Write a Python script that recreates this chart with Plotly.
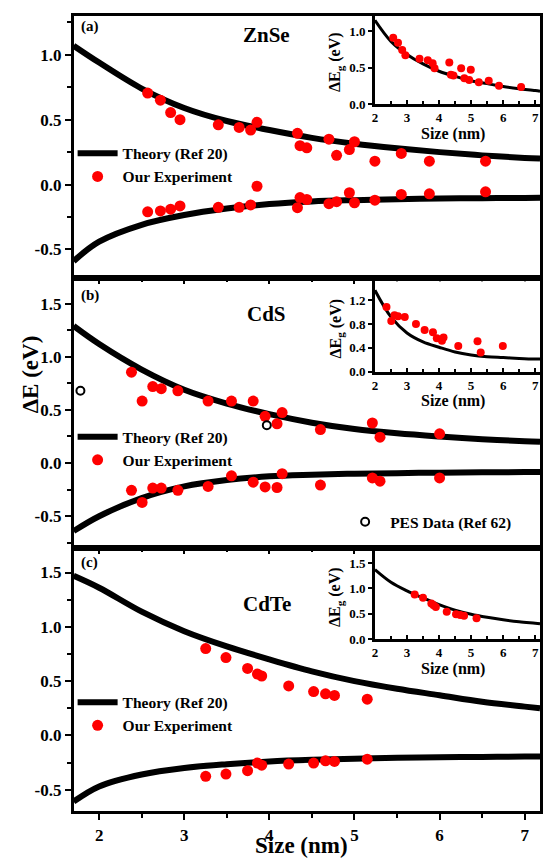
import plotly.graph_objects as go

W, H = 543, 860
FONT = "Liberation Serif"

# ---------------- data ----------------
theory_x = [1.7, 2.0, 2.5, 3.0, 3.5, 4.0, 4.5, 5.0, 5.5, 6.0, 6.5, 7.0, 7.18]
inset_theory_x = [2.0, 2.5, 3.0, 3.5, 4.0, 4.5, 5.0, 5.5, 6.0, 6.5, 7.0, 7.15]

# (a) ZnSe
a_theory_up = [1.07, 0.94, 0.74, 0.59, 0.49, 0.42, 0.36, 0.315, 0.28, 0.25, 0.225, 0.205, 0.20]
a_theory_dn = [-0.59, -0.44, -0.31, -0.235, -0.185, -0.15, -0.13, -0.12, -0.113, -0.108, -0.105, -0.103, -0.102]
a_size = [2.57, 2.72, 2.84, 2.95, 3.40, 3.645, 3.78, 3.855, 4.33, 4.36, 4.44, 4.70, 4.79, 4.94, 5.0, 5.24, 5.55, 5.88, 6.54]
a_up = [0.705, 0.65, 0.555, 0.50, 0.46, 0.44, 0.42, 0.48, 0.395, 0.30, 0.283, 0.35, 0.225, 0.27, 0.33, 0.18, 0.24, 0.18, 0.18]
a_dn = [-0.21, -0.203, -0.19, -0.165, -0.175, -0.175, -0.157, -0.013, -0.178, -0.10, -0.115, -0.147, -0.132, -0.063, -0.14, -0.12, -0.076, -0.071, -0.056]
a_in_theory = [1.15, 0.86, 0.68, 0.55, 0.45, 0.38, 0.32, 0.28, 0.24, 0.21, 0.185, 0.175]
a_in_size = [2.57, 2.72, 2.85, 2.95, 3.39, 3.65, 3.80, 3.86, 4.32, 4.37, 4.45, 4.69, 4.79, 4.94, 4.99, 5.24, 5.55, 5.87, 6.56]
a_in_gap = [0.91, 0.84, 0.74, 0.67, 0.62, 0.60, 0.56, 0.49, 0.57, 0.40, 0.39, 0.49, 0.355, 0.33, 0.47, 0.30, 0.32, 0.25, 0.235]

# (b) CdS
b_theory_up = [1.29, 1.12, 0.88, 0.69, 0.56, 0.46, 0.38, 0.32, 0.28, 0.25, 0.225, 0.205, 0.20]
b_theory_dn = [-0.64, -0.50, -0.33, -0.22, -0.16, -0.125, -0.11, -0.10, -0.095, -0.09, -0.087, -0.085, -0.085]
b_size = [2.38, 2.505, 2.63, 2.73, 2.925, 3.28, 3.555, 3.81, 3.95, 4.09, 4.15, 4.60, 5.21, 5.30, 6.0]
b_up = [0.855, 0.583, 0.72, 0.70, 0.68, 0.583, 0.583, 0.583, 0.44, 0.37, 0.475, 0.315, 0.377, 0.244, 0.275]
b_dn = [-0.256, -0.37, -0.235, -0.235, -0.256, -0.22, -0.12, -0.18, -0.225, -0.23, -0.10, -0.207, -0.14, -0.17, -0.14]
b_pes_size = [1.78, 3.97]
b_pes = [0.68, 0.355]
b_in_theory = [1.37, 0.92, 0.65, 0.50, 0.41, 0.33, 0.28, 0.25, 0.235, 0.22, 0.21, 0.21]
b_in_size = [2.36, 2.51, 2.61, 2.72, 2.93, 3.28, 3.55, 3.81, 3.93, 4.09, 4.14, 4.60, 5.20, 5.30, 5.99]
b_in_gap = [1.088, 0.85, 0.95, 0.93, 0.92, 0.80, 0.70, 0.66, 0.56, 0.52, 0.575, 0.43, 0.51, 0.32, 0.43]

# (c) CdTe
c_theory_up = [1.47, 1.36, 1.14, 0.96, 0.82, 0.70, 0.59, 0.50, 0.43, 0.37, 0.31, 0.265, 0.25]
c_theory_dn = [-0.61, -0.47, -0.36, -0.30, -0.265, -0.24, -0.225, -0.215, -0.207, -0.202, -0.198, -0.195, -0.195]
c_size = [3.252, 3.49, 3.744, 3.86, 3.91, 4.227, 4.52, 4.66, 4.765, 5.15]
c_up = [0.80, 0.717, 0.617, 0.565, 0.547, 0.456, 0.404, 0.383, 0.368, 0.334]
c_dn = [-0.377, -0.356, -0.325, -0.255, -0.274, -0.264, -0.255, -0.234, -0.24, -0.219]
c_in_theory = [1.37, 1.12, 0.95, 0.81, 0.68, 0.57, 0.49, 0.43, 0.38, 0.34, 0.31, 0.30]
c_in_size = [3.24, 3.50, 3.76, 3.83, 3.90, 4.24, 4.53, 4.66, 4.78, 5.17]
c_in_gap = [0.88, 0.815, 0.70, 0.665, 0.633, 0.54, 0.49, 0.476, 0.457, 0.41]

main_xticks = [2, 3, 4, 5, 6, 7]
main_yticks_a = [-0.5, 0.0, 0.5, 1.0]
main_yticks_bc = [-0.5, 0.0, 0.5, 1.0, 1.5]

# ---------------- layout helpers ----------------
def fx(p):
    return p / W

def fy(p):
    return 1 - p / H

MAIN_X = [fx(71), fx(540)]
PANELS = {1: (16, 278), 2: (284, 550), 3: (556, 819)}
INSET_X = [fx(374), fx(540)]
INSETS = {4: (16, 105), 5: (284, 375), 6: (556, 645)}

RED = "#ff0000"
fig = go.Figure()

def add_panel(n, t_up, t_dn, size, up, dn, legend):
    xa, ya = ("x", "y") if n == 1 else (f"x{n}", f"y{n}")
    fig.add_trace(go.Scatter(x=theory_x, y=t_up, mode="lines", line=dict(color="black", width=6, shape="spline"),
                             name="Theory (Ref 20)", xaxis=xa, yaxis=ya, legend=legend))
    fig.add_trace(go.Scatter(x=theory_x, y=t_dn, mode="lines", line=dict(color="black", width=6, shape="spline"),
                             showlegend=False, xaxis=xa, yaxis=ya))
    fig.add_trace(go.Scatter(x=size, y=up, mode="markers", marker=dict(color=RED, size=11),
                             name="Our Experiment", xaxis=xa, yaxis=ya, legend=legend))
    fig.add_trace(go.Scatter(x=size, y=dn, mode="markers", marker=dict(color=RED, size=11),
                             showlegend=False, xaxis=xa, yaxis=ya))

add_panel(1, a_theory_up, a_theory_dn, a_size, a_up, a_dn, "legend")
add_panel(2, b_theory_up, b_theory_dn, b_size, b_up, b_dn, "legend2")
add_panel(3, c_theory_up, c_theory_dn, c_size, c_up, c_dn, "legend3")
fig.add_trace(go.Scatter(x=b_pes_size, y=b_pes, mode="markers",
                         marker=dict(symbol="circle-open", color="black", size=8, line=dict(width=2)),
                         name="PES Data (Ref 62)", xaxis="x2", yaxis="y2", legend="legend4"))

def add_inset(n, t, size, gap):
    fig.add_trace(go.Scatter(x=inset_theory_x, y=t, mode="lines", line=dict(color="black", width=3, shape="spline"),
                             showlegend=False, xaxis=f"x{n}", yaxis=f"y{n}"))
    fig.add_trace(go.Scatter(x=size, y=gap, mode="markers", marker=dict(color=RED, size=8),
                             showlegend=False, xaxis=f"x{n}", yaxis=f"y{n}"))

add_inset(4, a_in_theory, a_in_size, a_in_gap)
add_inset(5, b_in_theory, b_in_size, b_in_gap)
add_inset(6, c_in_theory, c_in_size, c_in_gap)

tickfont = dict(family=FONT, size=17, color="black", weight="bold")
itickfont = dict(family=FONT, size=13, color="black", weight="bold")

def fmt(v):
    return f"{v:.1f}"

layout = dict(width=W, height=H, margin=dict(l=0, r=0, t=0, b=0),
              paper_bgcolor="white", plot_bgcolor="white", showlegend=True)

yranges = {1: [-0.70, 1.30], 2: [-0.77, 1.71], 3: [-0.70, 1.70]}
for n in (1, 2, 3):
    xk = "xaxis" if n == 1 else f"xaxis{n}"
    yk = "yaxis" if n == 1 else f"yaxis{n}"
    top, bot = PANELS[n]
    yt = main_yticks_a if n == 1 else main_yticks_bc
    layout[xk] = dict(domain=MAIN_X, anchor="y" if n == 1 else f"y{n}", range=[1.7, 7.18],
                      showline=True, linewidth=2.5, linecolor="black", mirror=True,
                      ticks="outside", ticklen=6, tickwidth=2, tickcolor="black",
                      tickvals=main_xticks, ticktext=[str(v) for v in main_xticks],
                      showticklabels=(n == 3), tickfont=tickfont, showgrid=False, zeroline=False,
                      minor=dict(ticks="outside", ticklen=4, tickwidth=2, dtick=0.5, tick0=0, tickcolor="black"))
    layout[yk] = dict(domain=[fy(bot), fy(top)], anchor="x" if n == 1 else f"x{n}", range=yranges[n],
                      showline=True, linewidth=2.5, linecolor="black", mirror=True,
                      ticks="outside", ticklen=6, tickwidth=2, tickcolor="black",
                      tickvals=yt, ticktext=[fmt(v) for v in yt], tickfont=tickfont,
                      showgrid=False, zeroline=False,
                      minor=dict(ticks="outside", ticklen=4, tickwidth=2, dtick=0.25, tick0=0, tickcolor="black"))

iyr = {4: [0, 1.21], 5: [0, 1.52], 6: [0, 1.74]}
iyt = {4: [0.0, 0.5, 1.0], 5: [0.0, 0.4, 0.8, 1.2], 6: [0.0, 0.5, 1.0, 1.5]}
for n in (4, 5, 6):
    top, bot = INSETS[n]
    layout[f"xaxis{n}"] = dict(domain=INSET_X, anchor=f"y{n}", range=[2, 7.15],
                               showline=True, linewidth=2.5, linecolor="black", mirror=True,
                               ticks="inside", ticklen=4, tickwidth=2, tickcolor="black",
                               tickvals=main_xticks, ticktext=[str(v) for v in main_xticks],
                               tickfont=itickfont, showgrid=False, zeroline=False,
                               minor=dict(ticks="inside", ticklen=3, tickwidth=2, dtick=0.5, tick0=0, tickcolor="black"))
    layout[f"yaxis{n}"] = dict(domain=[fy(bot), fy(top)], anchor=f"x{n}", range=iyr[n],
                               showline=True, linewidth=2.5, linecolor="black", mirror=True,
                               ticks="outside", ticklen=4, tickwidth=2, tickcolor="black",
                               tickvals=iyt[n], ticktext=[fmt(v) for v in iyt[n]],
                               tickfont=itickfont, showgrid=False, zeroline=False)

legfont = dict(family=FONT, size=15.5, color="black", weight="bold")
def leg(xp, yp):
    return dict(x=fx(xp), y=fy(yp), xanchor="left", yanchor="top", bgcolor="rgba(0,0,0,0)",
                borderwidth=0, font=legfont, itemwidth=40, tracegroupgap=0)

layout["legend"] = leg(70, 138)
layout["legend2"] = leg(70, 424)
layout["legend3"] = leg(70, 692)
layout["legend4"] = leg(339, 510)

ann = []
def text(xp, yp, s, size, angle=0):
    ann.append(dict(x=fx(xp), y=fy(yp), xref="paper", yref="paper", text=s, showarrow=False,
                    textangle=angle, xanchor="center", yanchor="middle",
                    font=dict(family=FONT, size=size, color="black", weight="bold")))

text(87, 27, "(a)", 15)
text(87, 298, "(b)", 15)
text(87, 568, "(c)", 15)
text(265, 35, "ZnSe", 21)
text(265, 317, "CdS", 21)
text(265, 610, "CdTe", 21)
text(28, 378, "ΔE (eV)", 23, -90)
text(300, 853, "Size (nm)", 23)
for (t, b) in INSETS.values():
    text(335, (t + b) / 2 + 2, "ΔE<sub>g</sub> (eV)", 16, -90)
    text(452, b + 30, "Size (nm)", 16)
layout["annotations"] = ann

fig.update_layout(**layout)
fig.write_html("out.html")
